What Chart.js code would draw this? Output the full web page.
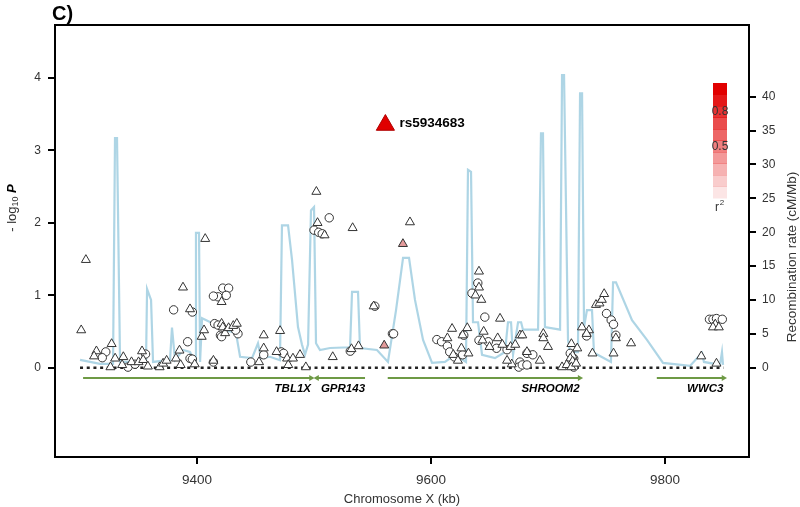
<!DOCTYPE html>
<html lang="en">
<head>
<meta charset="UTF-8">
<title>Regional association plot</title>
<script src="https://cdn.jsdelivr.net/npm/chart.js@4.4.3/dist/chart.umd.min.js"></script>
<style>body{margin:0;background:#fff}</style>
</head>
<body>
<canvas id="chart" width="800" height="507"></canvas>
<script>
// SNPs drawn as triangles: position (kb) and -log10 P
const triKb = [9301,9305,9314,9312,9327,9330,9326,9337,9336,9344,9350,9353,9354,9358,9368,9371,9374,9385,9382,9386,
  9388,9394,9398,9404,9406,9407,9414,9421,9422,9424,9427,9431,9434,9421,9453,9457,9457,9471,9468,9477,
  9478,9482,9488,9493,9502,9503,9509,9516,9532,9538,9533,9551,9582,9618,9614,9619,9623,9626,9627,9631,
  9632,9641,9641,9638,9643,9659,9645,9644,9650,9657,9661,9668,9672,9676,9669,9665,9678,9696,9696,9700,
  9682,9693,9712,9720,9725,9721,9719,9721,9716,9720,9724,9729,9735,9733,9738,9741,9744,9746,9748,9758,
  9756,9771,9831,9844,9843,9841,9846];
const triP = [0.52,1.49,0.23,0.16,0.33,0.13,0.01,0.15,0.04,0.08,0.08,0.23,0.11,0.02,0.01,0.06,0.10,0.24,0.13,0.04,
  1.11,0.81,0.05,0.43,0.52,1.78,0.10,0.61,0.56,0.48,0.55,0.58,0.61,0.91,0.08,0.45,0.27,0.51,0.22,0.13,
  0.04,0.13,0.18,0.01,2.43,2.00,1.83,0.15,0.26,0.30,1.93,0.85,2.01,0.54,0.41,0.18,0.10,0.27,0.45,0.55,
  0.20,1.33,1.11,1.00,0.94,0.68,0.50,0.38,0.29,0.41,0.32,0.29,0.32,0.45,0.05,0.10,0.45,0.47,0.41,0.29,
  0.22,0.10,0.01,0.33,0.27,0.17,0.13,0.09,0.04,0.01,0.06,0.56,0.52,0.47,0.20,0.87,0.89,0.94,1.02,0.41,
  0.20,0.34,0.16,0.06,0.60,0.56,0.56];

// SNPs drawn as circles
const circKb = [9322,9319,9341,9347,9356,9380,9396,9392,9394,9396,9414,9415,9418,9420,9421,9435,9433,9418,9422,9427,
  9425,9414,9446,9457,9472,9474,9500,9504,9507,9513,9531,9552,9567,9568,9605,9609,9614,9616,9620,9627,
  9628,9640,9635,9646,9641,9649,9656,9665,9676,9675,9682,9687,9678,9682,9719,9722,9722,9733,9750,9754,
  9756,9758,9838,9841,9844,9849];
const circP = [0.22,0.14,0.01,0.05,0.19,0.80,0.77,0.36,0.13,0.12,0.08,0.61,0.59,0.45,0.43,0.47,0.52,0.98,1.10,1.10,
  1.00,0.99,0.08,0.18,0.22,0.20,1.90,1.87,1.85,2.07,0.23,0.85,0.47,0.47,0.39,0.36,0.30,0.22,0.15,0.18,
  0.45,1.17,1.03,0.70,0.38,0.36,0.27,0.25,0.08,0.01,0.20,0.18,0.04,0.04,0.20,0.13,0.01,0.44,0.75,0.66,
  0.60,0.45,0.67,0.67,0.68,0.67];

// SNPs in moderate LD with the lead SNP
const ldKb = [9560, 9576];
const ldP = [0.31, 1.71];

const leadName = 'rs5934683';
const leadKb = [9561];
const leadP = [3.35];

// recombination rate (cM/Mb)
const recKb = [9300.0,9317.1,9328.2,9329.9,9331.6,9334.2,9356.4,9357.3,9360.7,9362.4,9376.9,9378.6,9381.2,9388.0,9394.0,
  9398.3,9399.1,9401.7,9402.6,9404.3,9412.8,9423.9,9433.3,9436.8,9447.0,9452.1,9454.7,9462.4,9470.9,9472.6,
  9477.8,9481.2,9486.3,9489.7,9492.3,9494.9,9497.4,9500.0,9501.7,9505.1,9513.7,9530.8,9532.5,9537.6,9539.3,
  9553.8,9563.2,9570.1,9576.1,9581.2,9586.3,9593.2,9600.9,9611.9,9620.5,9629.9,9631.6,9634.2,9635.9,9640.2,
  9643.6,9654.7,9663.2,9665.8,9668.4,9670.1,9674.4,9677.0,9678.6,9691.5,9694.0,9695.7,9697.4,9710.3,9712.0,
  9713.7,9717.1,9718.8,9725.6,9727.4,9729.1,9730.8,9733.3,9737.6,9739.3,9753.8,9755.6,9758.1,9771.8,9784.6,
  9798.3,9821.4,9831.6,9833.3,9847.0,9848.7,9849.6];
const recRate = [1.14,0.55,0.55,33.9,33.9,0.84,0.84,11.6,10.0,0.84,1.14,5.9,1.14,2.6,2.3,
  0.84,19.9,19.9,0.84,7.3,6.6,5.6,5.1,1.6,1.4,3.6,1.4,1.6,1.1,21.0,
  21.0,15.9,6.0,3.4,1.9,3.4,23.2,23.7,3.6,2.6,2.9,3.0,11.2,11.2,2.9,
  2.6,0.84,8.5,16.2,16.2,10.0,4.1,0.7,0.84,1.9,0.84,29.2,28.9,6.7,6.7,
  1.9,1.4,2.3,6.7,6.7,1.9,6.7,6.7,5.6,5.6,34.6,34.6,6.0,5.6,43.2,
  43.2,4.1,2.3,2.3,40.5,40.5,6.0,8.5,8.5,2.2,0.84,12.6,12.6,7.0,4.1,
  0.7,0.25,2.2,0.84,0.4,2.3,0.4];

// genes (kb), drawn just under zero
const geneNames = ['TBL1X', 'GPR143', 'SHROOM2', 'WWC3'];
const geneStart = [9302.6, 9543.6, 9563, 9793];
const geneEnd = [9497.4, 9502.6, 9727, 9850];
const geneLevel = -0.14;

const baseKb = [9300, 9850];
const xTicks = [9400, 9600, 9800];
const pTicks = [0, 1, 2, 3, 4];
const rateTicks = [0, 5, 10, 15, 20, 25, 30, 35, 40];
const r2Labels = ['0.8', '0.5'];

const FONT = "'Liberation Sans', Arial, sans-serif";
const pts = (xs, ys) => xs.map((x, i) => ({x: x, y: ys[i]}));
const setTicks = vals => scale => { scale.ticks = vals.map(v => ({value: v})); };

const datasets = [];
datasets.push({data: pts(leadKb, leadP), pointStyle: 'triangle', pointRadius: 10.5,
  backgroundColor: '#e00000', borderColor: '#b00000', borderWidth: 1, order: 0});
datasets.push({data: pts(ldKb, ldP), pointStyle: 'triangle', pointRadius: 5.2,
  backgroundColor: '#e39a9a', borderColor: '#333', borderWidth: 1, order: 1});
datasets.push({data: pts(triKb, triP), pointStyle: 'triangle', pointRadius: 5.2,
  backgroundColor: '#fff', borderColor: '#333', borderWidth: 1, order: 2});
datasets.push({data: pts(circKb, circP), pointStyle: 'circle', pointRadius: 4.2,
  backgroundColor: '#fff', borderColor: '#333', borderWidth: 1, order: 2});
geneNames.forEach((g, i) => {
  datasets.push({data: [{x: geneStart[i], y: geneLevel}, {x: geneEnd[i], y: geneLevel}],
    showLine: true, borderColor: '#6e9a45', backgroundColor: '#6e9a45', borderWidth: 2,
    pointStyle: 'triangle', pointRadius: [0, 3.5], pointBorderWidth: 0,
    pointRotation: [0, geneEnd[i] > geneStart[i] ? 90 : -90], order: 3});
});
datasets.push({data: pts(baseKb, [0, 0]), showLine: true, borderColor: '#222', borderWidth: 2.5,
  borderDash: [3, 3.7], pointRadius: 0, order: 4});
datasets.push({data: pts(recKb, recRate), yAxisID: 'y2', showLine: true,
  borderColor: 'rgba(165,208,226,0.9)', borderWidth: 2.2, pointRadius: 0, order: 5});

const decor = {
  id: 'decor',
  afterDraw(chart) {
    const ctx = chart.ctx, a = chart.chartArea, x = chart.scales.x, y = chart.scales.y;
    ctx.save();
    ctx.strokeStyle = '#000';
    ctx.lineWidth = 2;
    ctx.strokeRect(a.left, a.top, a.right - a.left, a.bottom - a.top);

    ctx.fillStyle = '#000';
    ctx.textBaseline = 'middle';
    ctx.textAlign = 'left';
    ctx.font = 'bold 20px ' + FONT;
    ctx.fillText('C)', 52, 14);

    // lead SNP label
    ctx.font = 'bold 13.5px ' + FONT;
    ctx.fillText(leadName, x.getPixelForValue(leadKb[0]) + 14, y.getPixelForValue(leadP[0]) - 2);

    // gene names
    ctx.font = 'italic bold 11.5px ' + FONT;
    ctx.textAlign = 'right';
    geneNames.forEach((g, i) => {
      const right = x.getPixelForValue(Math.max(geneStart[i], geneEnd[i]));
      ctx.fillText(g, right, y.getPixelForValue(geneLevel) + 11);
    });

    // axis titles
    ctx.fillStyle = '#333';
    ctx.font = '13px ' + FONT;
    ctx.textAlign = 'center';
    ctx.fillText('Chromosome X (kb)', 402, 499);

    ctx.save();
    ctx.translate(792, 257);
    ctx.rotate(-Math.PI / 2);
    ctx.font = '13.5px ' + FONT;
    ctx.fillText('Recombination rate (cM/Mb)', 0, 0);
    ctx.restore();

    ctx.save();
    ctx.translate(12, 208);
    ctx.rotate(-Math.PI / 2);
    ctx.textAlign = 'left';
    ctx.font = '13px ' + FONT;
    const p1 = '- log';
    const w1 = ctx.measureText(p1).width;
    ctx.font = '9px ' + FONT;
    const w2 = ctx.measureText('10').width;
    ctx.font = 'italic bold 13px ' + FONT;
    const w3 = ctx.measureText(' P').width;
    let cx = -(w1 + w2 + w3) / 2;
    ctx.font = '13px ' + FONT;
    ctx.fillText(p1, cx, 0);
    cx += w1;
    ctx.font = '9px ' + FONT;
    ctx.fillText('10', cx, 4);
    cx += w2;
    ctx.font = 'italic bold 13px ' + FONT;
    ctx.fillStyle = '#000';
    ctx.fillText(' P', cx, 0);
    ctx.restore();

    // r2 colour key
    const steps = 10, top = 83, h = 11.5;
    for (let i = 0; i < steps; i++) {
      ctx.fillStyle = 'rgba(225,0,0,' + (1 - i / steps).toFixed(2) + ')';
      ctx.fillRect(713, top + i * h, 14, h + 0.5);
    }
    ctx.fillStyle = '#333';
    ctx.font = '12px ' + FONT;
    ctx.textAlign = 'center';
    ctx.fillText(r2Labels[0], 720, 112);
    ctx.fillText(r2Labels[1], 720, 147);
    ctx.fillText('r', 717, 208);
    ctx.font = '8px ' + FONT;
    ctx.fillText('2', 722, 203);
    ctx.restore();
  }
};

const tickFont = {family: FONT, size: 12};

new Chart(document.getElementById('chart'), {
  type: 'scatter',
  data: {datasets: datasets},
  options: {
    responsive: false,
    animation: false,
    layout: {padding: {top: 25, left: 0, right: 0, bottom: 0}},
    plugins: {legend: {display: false}, tooltip: {enabled: false}},
    scales: {
      x: {
        type: 'linear', min: 9278.6, max: 9871.8,
        afterBuildTicks: setTicks(xTicks),
        afterFit: s => { s.height = 50; },
        grid: {drawOnChartArea: false, tickLength: 7, color: '#000', lineWidth: 2},
        border: {color: '#000', width: 2},
        ticks: {font: {family: FONT, size: 13.5}, color: '#333', padding: 8, maxRotation: 0,
          callback: v => String(v)}
      },
      y: {
        position: 'left', min: -1.23, max: 4.73,
        afterBuildTicks: setTicks(pTicks),
        afterFit: s => { s.width = 55; },
        grid: {drawOnChartArea: false, tickLength: 7, color: '#000', lineWidth: 2},
        border: {color: '#000', width: 2},
        ticks: {font: tickFont, color: '#333', padding: 7}
      },
      y2: {
        position: 'right', min: -13.2, max: 50.6,
        afterBuildTicks: setTicks(rateTicks),
        afterFit: s => { s.width = 51; },
        grid: {drawOnChartArea: false, tickLength: 7, color: '#000', lineWidth: 2},
        border: {color: '#000', width: 2},
        ticks: {font: tickFont, color: '#333', padding: 6}
      }
    }
  },
  plugins: [decor]
});
</script>
</body>
</html>
